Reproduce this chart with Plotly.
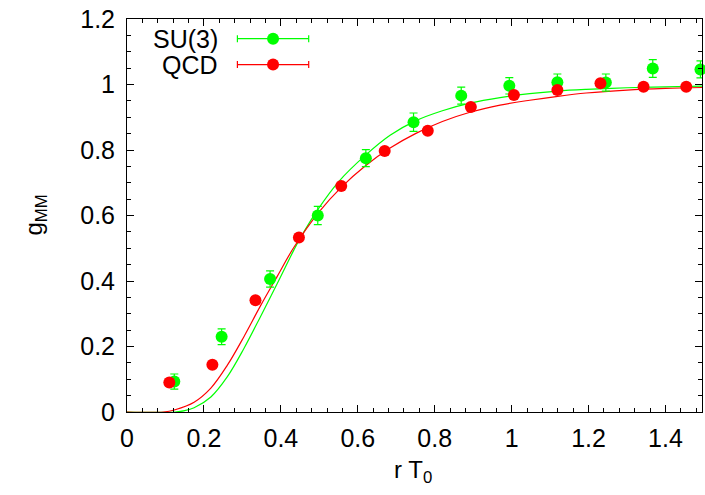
import plotly.graph_objects as go

# SU(3) data
su3_r = [0.123, 0.246, 0.372, 0.496, 0.621, 0.745, 0.869, 0.994, 1.119, 1.245, 1.367, 1.491]
su3_g = [0.093, 0.230, 0.406, 0.600, 0.775, 0.885, 0.966, 0.996, 1.007, 1.006, 1.049, 1.046]
su3_err = [0.023, 0.024, 0.025, 0.028, 0.026, 0.028, 0.026, 0.025, 0.025, 0.026, 0.027, 0.026]

# QCD data
qcd_r = [0.110, 0.222, 0.334, 0.447, 0.557, 0.670, 0.782, 0.894, 1.006, 1.119, 1.231, 1.343, 1.454]
qcd_g = [0.090, 0.144, 0.341, 0.533, 0.690, 0.797, 0.859, 0.931, 0.968, 0.983, 1.004, 0.993, 0.993]
qcd_err = [0.008, 0.008, 0.008, 0.008, 0.008, 0.008, 0.008, 0.008, 0.008, 0.008, 0.008, 0.008, 0.008]

# fit curves
su3_fit_r = [0.0, 0.125, 0.15, 0.1745, 0.218, 0.261, 0.304, 0.347, 0.391, 0.434, 0.45, 0.496, 0.55,
             0.621, 0.684, 0.75, 0.82, 0.892, 0.97, 1.047, 1.12, 1.194, 1.30, 1.40, 1.50]
su3_fit_g = [0.0, 0.0, 0.004, 0.013, 0.046, 0.108, 0.194, 0.291, 0.393, 0.495, 0.53, 0.618, 0.703,
             0.785, 0.845, 0.889, 0.920, 0.943, 0.960, 0.972, 0.980, 0.985, 0.990, 0.993, 0.995]

qcd_fit_r = [0.0, 0.095, 0.125, 0.1745, 0.218, 0.261, 0.304, 0.347, 0.391, 0.434, 0.50, 0.557,
             0.62, 0.684, 0.75, 0.82, 0.894, 0.97, 1.047, 1.12, 1.194, 1.30, 1.40, 1.50]
qcd_fit_g = [0.0, 0.0, 0.007, 0.030, 0.073, 0.143, 0.230, 0.324, 0.415, 0.503, 0.612, 0.686,
             0.752, 0.806, 0.850, 0.887, 0.916, 0.937, 0.952, 0.964, 0.974, 0.983, 0.988, 0.991]

x_tick_vals = [0, 0.2, 0.4, 0.6, 0.8, 1.0, 1.2, 1.4]
x_tick_text = ["0", "0.2", "0.4", "0.6", "0.8", "1", "1.2", "1.4"]
y_tick_vals = [0, 0.2, 0.4, 0.6, 0.8, 1.0, 1.2]
y_tick_text = ["0", "0.2", "0.4", "0.6", "0.8", "1", "1.2"]

GREEN = "#00ff00"
RED = "#ff0000"
FONT = "Liberation Sans, Arial, sans-serif"

fig = go.Figure()

fig.add_trace(go.Scatter(x=su3_fit_r, y=su3_fit_g, mode="lines",
                         line=dict(color=GREEN, width=1.2, shape="spline", smoothing=1.0),
                         showlegend=False, hoverinfo="skip"))
fig.add_trace(go.Scatter(x=qcd_fit_r, y=qcd_fit_g, mode="lines",
                         line=dict(color=RED, width=1.2, shape="spline", smoothing=1.0),
                         showlegend=False, hoverinfo="skip"))
fig.add_trace(go.Scatter(x=su3_r, y=su3_g, mode="markers", name="SU(3)",
                         marker=dict(color=GREEN, size=12), cliponaxis=False,
                         error_y=dict(type="data", array=su3_err, color=GREEN, thickness=1.2, width=4),
                         showlegend=False))
fig.add_trace(go.Scatter(x=qcd_r, y=qcd_g, mode="markers", name="QCD",
                         marker=dict(color=RED, size=12), cliponaxis=False,
                         error_y=dict(type="data", array=qcd_err, color=RED, thickness=1.2, width=4),
                         showlegend=False))

# manual gnuplot-style key
key = [("SU(3)", GREEN, 0.950), ("QCD", RED, 0.884)]
shapes = []
annotations = []
for label, col, yp in key:
    annotations.append(dict(text=label, xref="paper", yref="paper", x=0.162, y=yp, xanchor="right",
                            yanchor="middle", showarrow=False,
                            font=dict(size=25, color="black", family=FONT)))
    shapes.append(dict(type="line", xref="paper", yref="paper", x0=0.192, x1=0.316, y0=yp, y1=yp,
                       line=dict(color=col, width=1.2)))
    for xe in (0.192, 0.316):
        shapes.append(dict(type="line", xref="paper", yref="paper", xsizemode="pixel", ysizemode="pixel",
                           xanchor=xe, yanchor=yp, x0=0, x1=0, y0=-3.5, y1=3.5,
                           line=dict(color=col, width=1.2)))
    shapes.append(dict(type="circle", xref="paper", yref="paper", xsizemode="pixel", ysizemode="pixel",
                       xanchor=0.254, yanchor=yp, x0=-6, x1=6, y0=-6, y1=6,
                       fillcolor=col, line=dict(color=col, width=0)))

# axis titles
annotations.append(dict(text="r T<sub>0</sub>", xref="paper", yref="paper", x=0.497, y=-0.152,
                        xanchor="center", yanchor="middle", showarrow=False,
                        font=dict(size=24, color="black", family=FONT)))
annotations.append(dict(text="g<sub>MM</sub>", xref="paper", yref="paper", x=-0.16, y=0.50,
                        xanchor="center", yanchor="middle", showarrow=False, textangle=-90,
                        font=dict(size=24, color="black", family=FONT)))

fig.update_layout(
    width=705, height=495,
    margin=dict(l=127, r=3, t=19, b=83, autoexpand=False),
    paper_bgcolor="white", plot_bgcolor="white",
    font=dict(family=FONT, size=25, color="black"),
    shapes=shapes, annotations=annotations,
    showlegend=False,
)
fig.update_xaxes(
    range=[0, 1.495], tickvals=x_tick_vals, ticktext=x_tick_text, automargin=False,
    ticks="inside", ticklen=7, tickcolor="black", showgrid=False, zeroline=False,
    showline=True, linecolor="black", linewidth=1, mirror="allticks",
    minor=dict(dtick=0.04, tick0=0, ticks="inside", ticklen=4, tickcolor="black", showgrid=False),
    tickfont=dict(size=25), ticklabelstandoff=4,
)
fig.update_yaxes(
    range=[0, 1.2], tickvals=y_tick_vals, ticktext=y_tick_text, automargin=False,
    ticks="inside", ticklen=7, tickcolor="black", showgrid=False, zeroline=False,
    showline=True, linecolor="black", linewidth=1, mirror="allticks",
    minor=dict(dtick=0.05, tick0=0, ticks="inside", ticklen=4, tickcolor="black", showgrid=False),
    tickfont=dict(size=25), ticklabelstandoff=6,
)

fig.write_html("out.html", config={"displayModeBar": False},
               post_script="document.body.style.margin='0';")
